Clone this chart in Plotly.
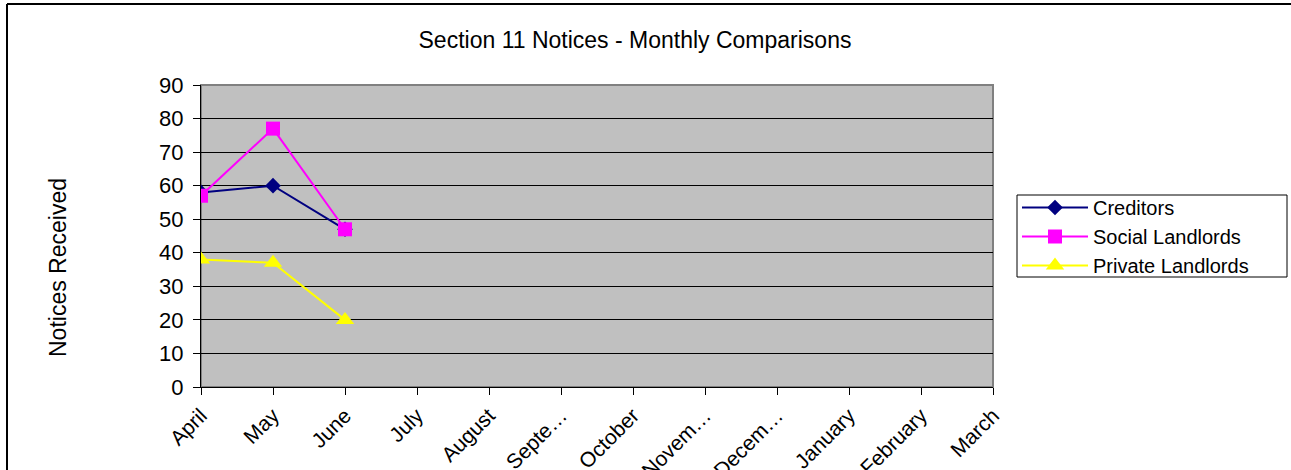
import plotly.graph_objects as go

months = ["April", "May", "June", "July", "August", "Septe…", "October",
          "Novem…", "Decem…", "January", "February", "March"]
creditors = [58, 60, 47]
social_landlords = [57, 77, 47]
private_landlords = [38, 37, 20]

FONT = "Liberation Sans, Arial, sans-serif"

W, H = 1291, 470
L, R, T, B = 201, 993, 85, 387  # plot area edges in pixels
PW, PH = R - L, B - T

fig = go.Figure()
fig.add_trace(go.Scatter(x=months[:len(creditors)], y=creditors, name="Creditors",
                         mode="lines+markers", line=dict(color="#000080", width=2),
                         marker=dict(symbol="diamond", size=12, color="#000080")))
fig.add_trace(go.Scatter(x=months[:len(social_landlords)], y=social_landlords, name="Social Landlords",
                         mode="lines+markers", line=dict(color="#FF00FF", width=2),
                         marker=dict(symbol="square", size=14, color="#FF00FF")))
fig.add_trace(go.Scatter(x=months[:len(private_landlords)], y=private_landlords, name="Private Landlords",
                         mode="lines+markers", line=dict(color="#FFFF00", width=2),
                         marker=dict(symbol="triangle-up", size=16, color="#FFFF00")))

fig.update_layout(
    width=W, height=H,
    margin=dict(l=L, r=W - R, t=T, b=H - B, autoexpand=False),
    paper_bgcolor="white", plot_bgcolor="#C0C0C0",
    font=dict(family=FONT, color="black"),
    title=dict(text="Section 11 Notices - Monthly Comparisons", x=635 / W, xanchor="center",
               y=1 - 40 / H, yanchor="middle", font=dict(size=23, family=FONT)),
    showlegend=True,
    legend=dict(x=(1017 - L) / PW, xanchor="left", y=(B - 188) / PH, yanchor="top",
                borderwidth=0, bgcolor="rgba(0,0,0,0)",
                font=dict(size=20, family=FONT), tracegroupgap=0, itemwidth=66),
    xaxis=dict(type="category", categoryorder="array", categoryarray=months,
               range=[0, len(months) - 1], tickmode="array", tickvals=months, ticktext=months,
               tickangle=-45, tickfont=dict(size=21), ticks="outside", ticklen=7,
               tickcolor="black", showgrid=False, zeroline=False,
               showline=True, linecolor="black", linewidth=1, mirror=False),
    yaxis=dict(range=[0, 90], tickvals=list(range(0, 91, 10)), tickfont=dict(size=22),
               ticks="outside", ticklen=7, tickcolor="black", ticklabelstandoff=5,
               showgrid=True, gridcolor="black", gridwidth=1, zeroline=False,
               showline=True, linecolor="black", linewidth=1),
    annotations=[
        dict(text="Notices Received", xref="paper", yref="paper",
             x=(58 - L) / PW, y=(B - 268) / PH, xanchor="center", yanchor="middle",
             textangle=-90, showarrow=False, font=dict(size=23, family=FONT)),
    ],
    shapes=[
        dict(type="rect", xref="paper", yref="paper", x0=0, x1=1, y0=0, y1=1,
             line=dict(color="#808080", width=2), layer="below"),
        dict(type="rect", xref="paper", yref="paper",
             x0=(1017 - L) / PW, x1=(1287 - L) / PW, y0=(B - 195) / PH, y1=(B - 277) / PH,
             line=dict(color="black", width=1), fillcolor="white", layer="above"),
        dict(type="line", xref="paper", yref="paper", x0=(7 - L) / PW, x1=(7 - L) / PW,
             y0=(B - 4) / PH, y1=-0.5, line=dict(color="black", width=2)),
        dict(type="line", xref="paper", yref="paper", x0=(7 - L) / PW, x1=1.5,
             y0=(B - 4) / PH, y1=(B - 4) / PH, line=dict(color="black", width=2)),
    ],
)

fig.write_html("out.html", config={"displayModeBar": False},
               post_script="document.body.style.margin='0';")
